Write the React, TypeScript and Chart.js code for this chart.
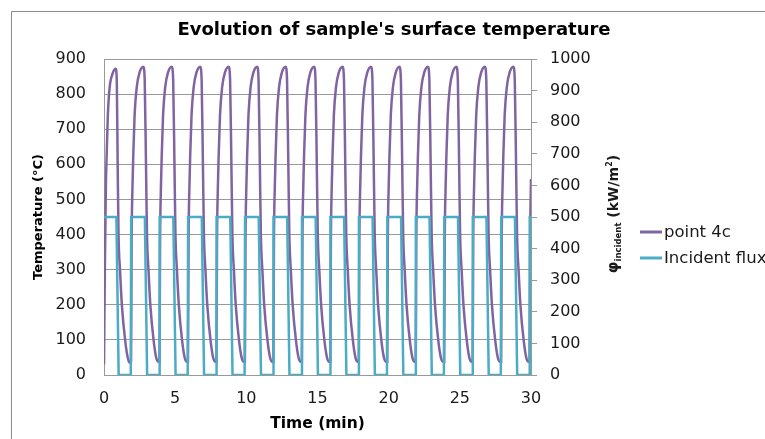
import React, { useEffect, useRef } from "react";
import { Chart, registerables } from "chart.js";

Chart.register(...registerables);

const TITLE = "Evolution of sample's surface temperature";
const X_TITLE = "Time (min)";
const Y_TITLE = "Temperature (°C)";
const SERIES_TEMP = "point 4c";
const SERIES_FLUX = "Incident flux";

const xTickValues = [0, 5, 10, 15, 20, 25, 30];
const yTickValues = [0, 100, 200, 300, 400, 500, 600, 700, 800, 900];
const y2TickValues = [0, 100, 200, 300, 400, 500, 600, 700, 800, 900, 1000];

// Surface temperature of point 4c (°C) vs time (min)
const tempTime = [
  0, 0.06, 0.13, 0.19, 0.27, 0.4, 0.6, 0.82, 0.9, 0.96, 1.02, 1.13, 1.26, 1.49, 1.67, 1.8,
  1.9, 1.94, 2, 2.06, 2.15, 2.3, 2.5, 2.76, 2.86, 2.95, 3.02, 3.13, 3.26, 3.49, 3.67, 3.8,
  3.9, 3.94, 4, 4.06, 4.15, 4.3, 4.5, 4.76, 4.86, 4.95, 5.02, 5.13, 5.26, 5.49, 5.67, 5.8,
  5.9, 5.94, 6, 6.06, 6.15, 6.3, 6.5, 6.76, 6.86, 6.95, 7.02, 7.13, 7.26, 7.49, 7.67, 7.8,
  7.9, 7.94, 8, 8.06, 8.15, 8.3, 8.5, 8.76, 8.86, 8.95, 9.02, 9.13, 9.26, 9.49, 9.67, 9.8,
  9.9, 9.94, 10, 10.06, 10.15, 10.3, 10.5, 10.76, 10.86, 10.95, 11.02, 11.13, 11.26, 11.49, 11.67, 11.8,
  11.9, 11.94, 12, 12.06, 12.15, 12.3, 12.5, 12.76, 12.86, 12.95, 13.02, 13.13, 13.26, 13.49, 13.67, 13.8,
  13.9, 13.94, 14, 14.06, 14.15, 14.3, 14.5, 14.76, 14.86, 14.95, 15.02, 15.13, 15.26, 15.49, 15.67, 15.8,
  15.9, 15.94, 16, 16.06, 16.15, 16.3, 16.5, 16.76, 16.86, 16.95, 17.02, 17.13, 17.26, 17.49, 17.67, 17.8,
  17.9, 17.94, 18, 18.06, 18.15, 18.3, 18.5, 18.76, 18.86, 18.95, 19.02, 19.13, 19.26, 19.49, 19.67, 19.8,
  19.9, 19.94, 20, 20.06, 20.15, 20.3, 20.5, 20.76, 20.86, 20.95, 21.02, 21.13, 21.26, 21.49, 21.67, 21.8,
  21.9, 21.94, 22, 22.06, 22.15, 22.3, 22.5, 22.76, 22.86, 22.95, 23.02, 23.13, 23.26, 23.49, 23.67, 23.8,
  23.9, 23.94, 24, 24.06, 24.15, 24.3, 24.5, 24.76, 24.86, 24.95, 25.02, 25.13, 25.26, 25.49, 25.67, 25.8,
  25.9, 25.94, 26, 26.06, 26.15, 26.3, 26.5, 26.76, 26.86, 26.95, 27.02, 27.13, 27.26, 27.49, 27.67, 27.8,
  27.9, 27.94, 28, 28.06, 28.15, 28.3, 28.5, 28.76, 28.86, 28.95, 29.02, 29.13, 29.26, 29.49, 29.67, 29.8,
  29.9, 29.94, 30,
];
const tempValue = [
  30, 300, 535, 630, 740, 820, 858, 872, 835, 600, 400, 296, 197, 97, 49, 35,
  38, 380, 535, 630, 740, 820, 862, 878, 840, 600, 400, 296, 197, 97, 49, 38,
  38, 380, 535, 630, 740, 820, 862, 878, 840, 600, 400, 296, 197, 97, 49, 38,
  38, 380, 535, 630, 740, 820, 862, 878, 840, 600, 400, 296, 197, 97, 49, 38,
  38, 380, 535, 630, 740, 820, 862, 878, 840, 600, 400, 296, 197, 97, 49, 38,
  38, 380, 535, 630, 740, 820, 862, 878, 840, 600, 400, 296, 197, 97, 49, 38,
  38, 380, 535, 630, 740, 820, 862, 878, 840, 600, 400, 296, 197, 97, 49, 38,
  38, 380, 535, 630, 740, 820, 862, 878, 840, 600, 400, 296, 197, 97, 49, 38,
  38, 380, 535, 630, 740, 820, 862, 878, 840, 600, 400, 296, 197, 97, 49, 38,
  38, 380, 535, 630, 740, 820, 862, 878, 840, 600, 400, 296, 197, 97, 49, 38,
  38, 380, 535, 630, 740, 820, 862, 878, 840, 600, 400, 296, 197, 97, 49, 38,
  38, 380, 535, 630, 740, 820, 862, 878, 840, 600, 400, 296, 197, 97, 49, 38,
  38, 380, 535, 630, 740, 820, 862, 878, 840, 600, 400, 296, 197, 97, 49, 38,
  38, 380, 535, 630, 740, 820, 862, 878, 840, 600, 400, 296, 197, 97, 49, 38,
  38, 380, 535, 630, 740, 820, 862, 878, 840, 600, 400, 296, 197, 97, 49, 38,
  38, 380, 558,
];

// Incident flux (kW/m²) vs time (min)
const fluxTime = [
  0, 0.87, 1.03,
  1.88, 1.91, 2.87, 3.03,
  3.88, 3.91, 4.87, 5.03,
  5.88, 5.91, 6.87, 7.03,
  7.88, 7.91, 8.87, 9.03,
  9.88, 9.91, 10.87, 11.03,
  11.88, 11.91, 12.87, 13.03,
  13.88, 13.91, 14.87, 15.03,
  15.88, 15.91, 16.87, 17.03,
  17.88, 17.91, 18.87, 19.03,
  19.88, 19.91, 20.87, 21.03,
  21.88, 21.91, 22.87, 23.03,
  23.88, 23.91, 24.87, 25.03,
  25.88, 25.91, 26.87, 27.03,
  27.88, 27.91, 28.87, 29.03,
  29.88, 29.91, 30,
];
const fluxValue = [
  500, 500, 0,
  0, 500, 500, 0,
  0, 500, 500, 0,
  0, 500, 500, 0,
  0, 500, 500, 0,
  0, 500, 500, 0,
  0, 500, 500, 0,
  0, 500, 500, 0,
  0, 500, 500, 0,
  0, 500, 500, 0,
  0, 500, 500, 0,
  0, 500, 500, 0,
  0, 500, 500, 0,
  0, 500, 500, 0,
  0, 500, 500, 0,
  0, 500, 500,
];

const FONT = '"DejaVu Sans", sans-serif';
const TEXT = "#1a1a1a";
const GRID = "#999999";

const decorPlugin = {
  id: "decor",
  afterDraw(chart: any) {
    const ctx = chart.ctx as CanvasRenderingContext2D;
    const area = chart.chartArea;
    ctx.save();
    // outer chart border (partially visible)
    ctx.strokeStyle = "#8c8c8c";
    ctx.lineWidth = 1;
    ctx.beginPath();
    ctx.moveTo(11.5, chart.height);
    ctx.lineTo(11.5, 11.5);
    ctx.lineTo(chart.width, 11.5);
    ctx.stroke();

    // legend
    const legendY = [232, 258];
    const order = [0, 1];
    order.forEach((di, i) => {
      const ds = chart.data.datasets[di];
      const y = legendY[i];
      ctx.strokeStyle = ds.borderColor;
      ctx.lineWidth = 3;
      ctx.beginPath();
      ctx.moveTo(640, y);
      ctx.lineTo(662, y);
      ctx.stroke();
      ctx.fillStyle = TEXT;
      ctx.font = `16.5px ${FONT}`;
      ctx.textAlign = "left";
      ctx.textBaseline = "middle";
      ctx.fillText(ds.label, 664, y + 1);
    });

    // right axis title: φ_incident (kW/m²)
    const parts = [
      { t: "φ", size: 15, dy: 0 },
      { t: "incident", size: 8.5, dy: 3 },
      { t: " (kW/m", size: 14, dy: 0 },
      { t: "2", size: 8, dy: -6 },
      { t: ")", size: 14, dy: 0 },
    ];
    let total = 0;
    const widths = parts.map((p) => {
      ctx.font = `bold ${p.size}px ${FONT}`;
      const w = ctx.measureText(p.t).width;
      total += w;
      return w;
    });
    const cx = 613;
    const cy = (area.top + area.bottom) / 2 - 3;
    ctx.translate(cx, cy);
    ctx.rotate(-Math.PI / 2);
    ctx.fillStyle = TEXT;
    ctx.textAlign = "left";
    ctx.textBaseline = "alphabetic";
    let x = -total / 2;
    parts.forEach((p, i) => {
      ctx.font = `bold ${p.size}px ${FONT}`;
      ctx.fillText(p.t, x, 5 + p.dy);
      x += widths[i];
    });
    ctx.restore();
  },
};

const plainLabel = (v: any) => String(v);

export default function App() {
  const ref = useRef<HTMLCanvasElement | null>(null);

  useEffect(() => {
    if (!ref.current) return;
    const tempData = tempTime.map((t, i) => ({ x: t, y: tempValue[i] }));
    const fluxData = fluxTime.map((t, i) => ({ x: t, y: fluxValue[i] }));
    const chart = new Chart(ref.current, {
      type: "line",
      data: {
        datasets: [
          {
            label: SERIES_TEMP,
            data: tempData,
            borderColor: "#8064A2",
            backgroundColor: "#8064A2",
            borderWidth: 2.5,
            pointRadius: 0,
            cubicInterpolationMode: "monotone",
            yAxisID: "y",
            order: 1,
          },
          {
            label: SERIES_FLUX,
            data: fluxData,
            borderColor: "#4BACC6",
            backgroundColor: "#4BACC6",
            borderWidth: 2.5,
            pointRadius: 0,
            tension: 0,
            yAxisID: "y2",
            order: 0,
          },
        ],
      },
      options: {
        responsive: false,
        animation: false,
        layout: { padding: 0 },
        plugins: {
          legend: { display: false },
          tooltip: { enabled: false },
          title: {
            display: true,
            text: TITLE,
            color: "#000",
            font: { family: FONT, size: 18, weight: "bold" },
            padding: { top: 19.2, bottom: 18.2 },
          },
        },
        scales: {
          x: {
            type: "linear",
            min: 0,
            max: 30,
            afterBuildTicks: (s: any) => {
              s.ticks = xTickValues.map((v) => ({ value: v }));
            },
            afterFit: (s: any) => {
              s.height = 75;
            },
            grid: { display: false, drawTicks: false },
            border: { display: true, color: GRID, width: 1 },
            ticks: { color: TEXT, font: { family: FONT, size: 16 }, padding: 14, maxRotation: 0, callback: plainLabel },
            title: {
              display: true,
              text: X_TITLE,
              color: "#000",
              font: { family: FONT, size: 15.5, weight: "bold" },
              padding: { top: 0, bottom: 17 },
            },
          },
          y: {
            position: "left",
            min: 0,
            max: 900,
            afterBuildTicks: (s: any) => {
              s.ticks = yTickValues.map((v) => ({ value: v }));
            },
            afterFit: (s: any) => {
              s.width = 104;
            },
            grid: { color: GRID, lineWidth: 1, drawTicks: false },
            border: { display: true, color: GRID, width: 1 },
            ticks: { color: TEXT, font: { family: FONT, size: 16 }, padding: 18, callback: plainLabel },
            title: {
              display: true,
              text: Y_TITLE,
              color: "#000",
              font: { family: FONT, size: 13, weight: "bold" },
              padding: { top: 31, bottom: 0 },
            },
          },
          y2: {
            position: "right",
            min: 0,
            max: 1000,
            afterBuildTicks: (s: any) => {
              s.ticks = y2TickValues.map((v) => ({ value: v }));
            },
            afterFit: (s: any) => {
              s.width = 257;
            },
            grid: { drawOnChartArea: false, drawTicks: true, tickLength: 6, color: GRID },
            border: { display: true, color: GRID, width: 1 },
            ticks: { color: TEXT, font: { family: FONT, size: 16 }, padding: 13, callback: plainLabel },
          },
        },
      },
      plugins: [decorPlugin],
    } as any);
    return () => chart.destroy();
  }, []);

  return (
    <div
      style={{
        position: "absolute",
        left: 0,
        top: 0,
        width: 765,
        height: 439,
        overflow: "hidden",
        background: "#fff",
      }}
    >
      <canvas ref={ref} width={788} height={450} style={{ width: 788, height: 450, display: "block" }} />
    </div>
  );
}
